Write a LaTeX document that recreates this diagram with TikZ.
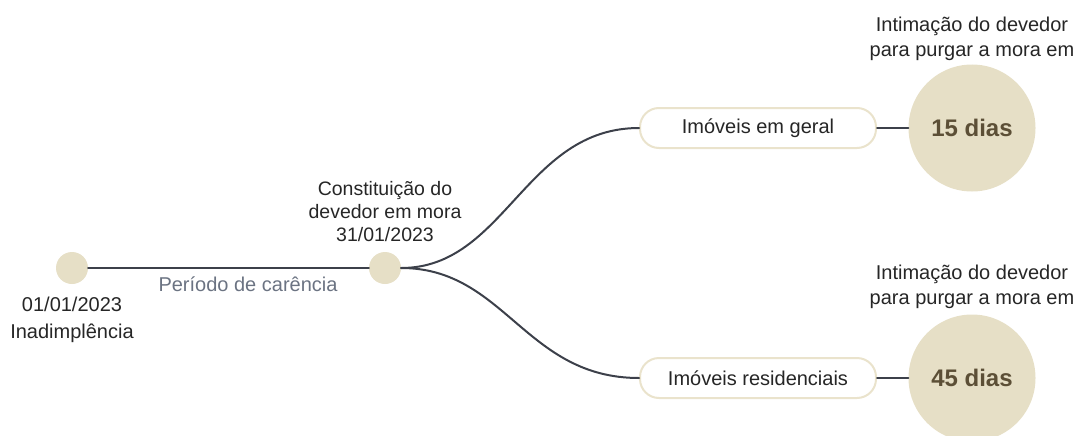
\documentclass[tikz,border=0pt]{standalone}
\usepackage{fontspec}
\setmainfont{Liberation Sans}
\usetikzlibrary{positioning}
\definecolor{bege}{rgb}{0.902,0.875,0.776}
\definecolor{begeborda}{rgb}{0.918,0.890,0.800}
\definecolor{linhacor}{rgb}{0.235,0.251,0.290}
\definecolor{textocor}{rgb}{0.15,0.15,0.15}
\definecolor{cinzacor}{rgb}{0.42,0.45,0.51}
\definecolor{marromcor}{rgb}{0.36,0.31,0.21}

\begin{document}
\begin{tikzpicture}[line cap=round,line join=round,x=1pt,y=-1pt,
  ponto/.style={circle,fill=bege,minimum size=32pt,inner sep=0pt},
  prazo/.style={circle,fill=bege,minimum size=127pt,inner sep=0pt,text=marromcor,font=\fontsize{24}{28}\selectfont\bfseries},
  pilula/.style={draw=begeborda,line width=2pt,fill=white,rounded corners=19pt,minimum width=236pt,minimum height=40pt,inner sep=0pt,text=textocor,font=\fontsize{20}{24}\selectfont},
  rotulo/.style={text=textocor,align=center,inner sep=0pt,font=\fontsize{20}{25}\selectfont},
  ligacao/.style={draw=linhacor,line width=2pt}]
\useasboundingbox (0,0) rectangle (1078,436);
% linha do tempo
\node[ponto] (inicio) at (72,268) {};
\node[ponto] (mora) at (385,268) {};
\draw[ligacao] (inicio) -- (mora);
\node[rotulo,text=cinzacor] (carencia) at (248,284) {Período de carência};
\node[rotulo] (data1) at (72,304) {01/01/2023};
\node[rotulo] (inad) at (72,333) {Inadimplência};
\node[rotulo,font=\fontsize{19.5}{23}\selectfont] (constit) at (385,212) {Constituição do\\devedor em mora\\31/01/2023};
% ramos
\node[pilula] (geral) at (758,128) {Imóveis em geral};
\node[pilula] (resid) at (758,378) {Imóveis residenciais};
\draw[ligacao] (mora.east) .. controls (505,268) and (525,128) .. (geral.west);
\draw[ligacao] (mora.east) .. controls (505,268) and (525,378) .. (resid.west);
\node[prazo] (d15) at (972,128) {15 dias};
\node[prazo] (d45) at (972,378) {45 dias};
\draw[ligacao] (geral) -- (d15);
\draw[ligacao] (resid) -- (d45);
\node[rotulo] (int15) at (972,39) {Intimação do devedor\\para purgar a mora em};
\node[rotulo] (int45) at (972,287) {Intimação do devedor\\para purgar a mora em};
\end{tikzpicture}
\end{document}
